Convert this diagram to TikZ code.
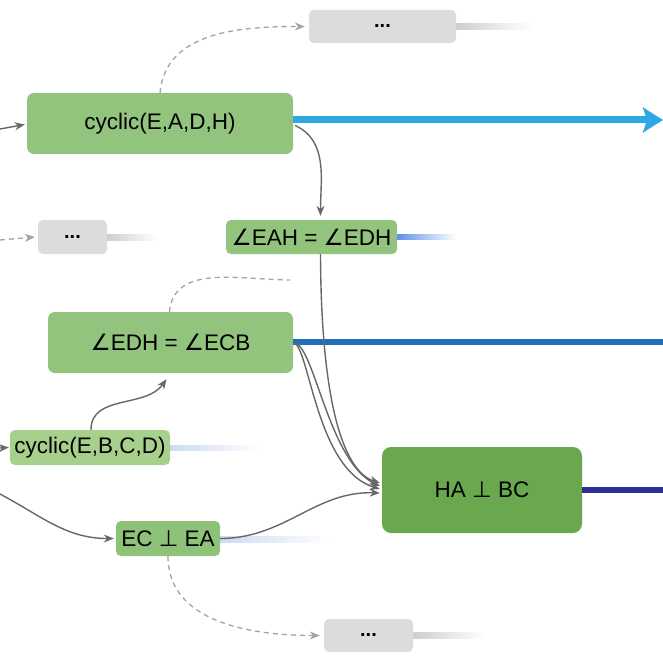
\documentclass[tikz,border=0pt]{standalone}
\usepackage{fontspec}
\setmainfont{Liberation Sans}
\newfontfamily\symfont{DejaVu Sans}
\usetikzlibrary{arrows.meta,calc}

\definecolor{gmid}{HTML}{93C47D}
\definecolor{glight}{HTML}{A8D08D}
\definecolor{gdark}{HTML}{6AA84F}
\definecolor{gperp}{HTML}{8DC278}
\definecolor{boxgray}{HTML}{DCDCDC}
\definecolor{edgegray}{HTML}{676767}
\definecolor{dashgray}{HTML}{A3A3A3}
\definecolor{skyblue}{HTML}{2EA8E2}
\definecolor{midblue}{HTML}{1F6EB6}
\definecolor{navyblue}{HTML}{2E3192}
\definecolor{tailblue}{HTML}{5B8FEA}
\definecolor{paleblue}{HTML}{CCDAF4}
\definecolor{tailgray}{HTML}{CDCDCD}

\newcommand{\ang}{{\symfont ∠}}
\newcommand{\perpsym}{{\symfont ⊥}}

\tikzset{
  fact/.style={rounded corners=7pt, inner sep=0pt, text=black,
    font=\fontsize{22.5}{26}\selectfont},
  more/.style={rounded corners=5pt, inner sep=0pt, fill=boxgray, text=black,
    font=\fontsize{20}{24}\selectfont\bfseries},
  conn/.style={draw=edgegray, line width=1.4pt,
    -{Stealth[length=10pt,width=8pt]}},
  dashconn/.style={draw=dashgray, line width=1.3pt, dash pattern=on 5pt off 4pt,
    -{Stealth[length=10pt,width=8pt]}},
  dashfree/.style={draw=dashgray, line width=1.3pt, dash pattern=on 5pt off 4pt},
  trunk/.style={line width=#1}
}

\begin{document}
\begin{tikzpicture}[x=1pt,y=1pt]
\useasboundingbox (0,0) rectangle (663,-655);

% fading tails behind the boxes
\shade[left color=tailgray, right color=white] (455,-23.5) rectangle (532,-29.5);
\shade[left color=tailgray, right color=white] (106,-234) rectangle (158,-240);
\shade[left color=tailgray, right color=white] (412,-632.5) rectangle (484,-638.5);
\shade[left color=tailblue, right color=white] (396,-234.5) rectangle (456,-239.5);
\shade[left color=paleblue, right color=white] (169,-445) rectangle (258,-450);
\shade[left color=paleblue, right color=white] (219,-536) rectangle (330,-542);

% boxes
\node[more, minimum width=147pt, minimum height=33pt] (dotsTop) at (382.5,-26.5) {...};
\node[fact, fill=gmid, minimum width=266pt, minimum height=61pt] (cEADH) at (160,-123.5) {cyclic(E,A,D,H)};
\node[fact, fill=gmid, minimum width=171pt, minimum height=34pt, rounded corners=5pt] (eah) at (311.5,-237) {\ang EAH = \ang EDH};
\node[more, minimum width=69pt, minimum height=34pt] (dotsMid) at (72.5,-237) {...};
\node[fact, fill=gmid, minimum width=245pt, minimum height=61pt] (edh) at (170.5,-342.5) {\ang EDH = \ang ECB};
\node[fact, fill=glight, minimum width=160pt, minimum height=35pt, rounded corners=5pt] (cEBCD) at (90,-447.5) {cyclic(E,B,C,D)};
\node[fact, fill=gdark, minimum width=200pt, minimum height=86pt, rounded corners=9pt] (habc) at (482,-490) {HA \perpsym\ BC};
\node[fact, fill=gperp, minimum width=104pt, minimum height=35pt, rounded corners=5pt] (ecea) at (168,-538.5) {EC \perpsym\ EA};
\node[more, minimum width=89pt, minimum height=33pt] (dotsBot) at (368.5,-635.5) {...};

% free ends of the edges leaving the picture
\coordinate (inEADH) at (0,-129);
\coordinate (inDots) at (0,-240);
\coordinate (inEBCD) at (0,-448);
\coordinate (inECEA) at (0,-494);
\coordinate (outEADH) at (663,-120);
\coordinate (outEDH) at (663,-342);
\coordinate (outHABC) at (663,-490);
\coordinate (dashEnd) at (290,-280);

% thick trunks to the right
\draw[trunk=7pt, draw=skyblue, -{Stealth[length=20pt,width=25pt,inset=4pt]}]
  (cEADH.east |- outEADH) -- (outEADH);
\draw[trunk=6pt, draw=midblue] (edh.east |- outEDH) -- (outEDH);
\draw[trunk=6pt, draw=navyblue] (habc.east |- outHABC) -- (outHABC);

% incoming edges from the left
\draw[conn] (inEADH) -- ($(cEADH.west)+(-2,-1)$);
\draw[dashconn] (inDots) -- ($(dotsMid.west)+(-3,0)$);
\draw[conn] (inEBCD) -- ($(cEBCD.west)+(-1,0)$);
\draw[conn] (inECEA) to[out=-28,in=180] ($(ecea.west)+(-2,0)$);

% dashed side branches
\draw[dashconn] (cEADH.north) to[out=85,in=180] ($(dotsTop.west)+(-4,0)$);
\draw[dashfree] ($(edh.north)+(-1,0)$) to[out=85,in=180] (dashEnd);
\draw[dashconn] (ecea.south) to[out=-90,in=180] ($(dotsBot.west)+(-4,0)$);

% deduction edges
\draw[conn] ($(cEADH.east)+(2,-2)$) to[out=-25,in=90] ($(eah.north)+(9,4)$);
\draw[conn] ($(cEBCD.north)+(1,0)$) to[out=90,in=-125] ($(edh.south)+(-4,-6)$);
\draw[conn] ($(eah.south)+(9,0)$) .. controls (321,-390) and (340,-470) .. ($(habc.west)+(-2,7)$);
\draw[conn] ($(edh.east)+(2,-1)$) .. controls (310,-355) and (318,-470) .. ($(habc.west)+(-2,1)$);
\draw[conn] ($(edh.east)+(3,-1)$) .. controls (315,-352) and (330,-462) .. ($(habc.west)+(-2,4)$);
\draw[conn] (ecea.east) to[out=0,in=178] ($(habc.west)+(-2,-3)$);
\end{tikzpicture}
\end{document}
